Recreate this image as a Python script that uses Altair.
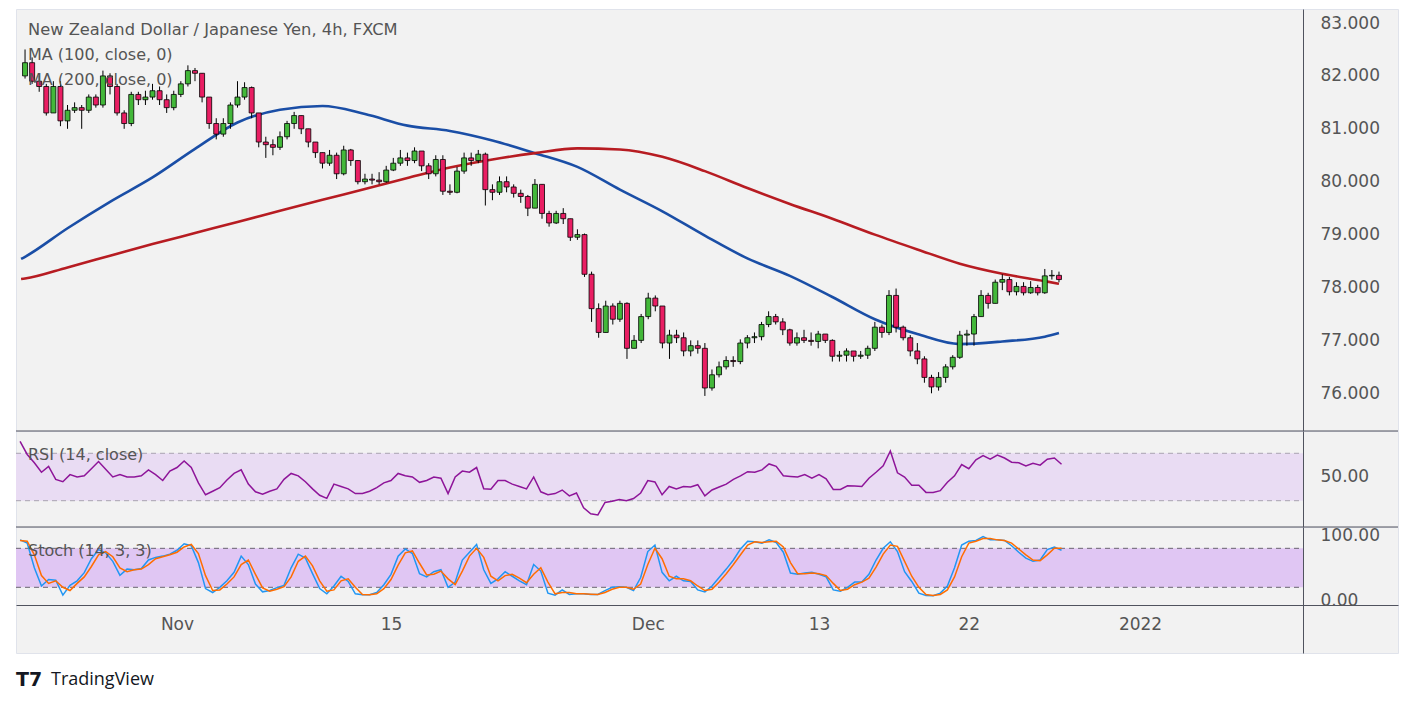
import altair as alt
import pandas as pd

# ---------------- data ----------------
# 8-hour bars; time axis in trading days, Nov 1 = 0
BAR_START = -22 / 3
BAR_STEP = 1 / 3
FIRST_OPEN = 82.0

CLOSE = [
    82.25, 81.9, 81.8, 81.3, 81.8, 81.15, 81.35, 81.4, 81.35, 81.6,
    81.45, 82.0, 81.8, 81.3, 81.1, 81.65, 81.55, 81.6, 81.72, 81.55,
    81.4, 81.65, 81.85, 82.1, 82.05, 81.6, 81.1, 80.9, 81.1, 81.45,
    81.6, 81.78, 81.3, 80.75, 80.7, 80.65, 80.85, 81.1, 81.25, 81.0,
    80.75, 80.55, 80.35, 80.5, 80.15, 80.6, 80.4, 80.0, 80.05, 80.03,
    80.0, 80.22, 80.35, 80.45, 80.4, 80.58, 80.3, 80.15, 80.42, 79.82,
    79.8, 80.2, 80.45, 80.4, 80.52, 79.85, 79.8, 80.0, 79.9, 79.78,
    79.72, 79.5, 79.95, 79.4, 79.22, 79.4, 79.3, 78.95, 79.0, 78.25,
    77.6, 77.15, 77.65, 77.4, 77.7, 76.85, 77.0, 77.45, 77.8, 77.65,
    76.95, 77.1, 77.05, 76.8, 76.9, 76.85, 76.1, 76.35, 76.5, 76.62,
    76.6, 76.95, 77.05, 77.07, 77.3, 77.45, 77.35, 77.2, 76.95, 77.05,
    77.0, 76.98, 77.12, 77.0, 76.7, 76.72, 76.8, 76.7, 76.72, 76.85,
    77.25, 77.15, 77.85, 77.25, 77.05, 76.8, 76.65, 76.3, 76.12, 76.3,
    76.5, 76.68, 77.1, 77.12, 77.45, 77.85, 77.7, 78.1, 78.15, 77.92,
    78.02, 77.9, 78.0, 77.9, 78.22, 78.23, 78.15,
]
HIGH = [
    82.5, 82.35, 82.0, 81.85, 81.9, 81.9, 81.45, 81.5, 81.45, 81.65,
    81.65, 82.1, 82.05, 81.85, 81.35, 81.7, 81.7, 81.72, 81.85, 81.8,
    81.65, 81.72, 81.9, 82.2, 82.15, 82.05, 81.6, 81.2, 81.2, 81.5,
    81.9, 81.88, 81.8, 81.3, 80.85, 80.8, 80.95, 81.15, 81.32, 81.25,
    81.0, 80.75, 80.55, 80.6, 80.55, 80.68, 80.62, 80.4, 80.15, 80.15,
    80.18, 80.3, 80.45, 80.6, 80.55, 80.65, 80.58, 80.35, 80.5, 80.5,
    79.95, 80.28, 80.55, 80.55, 80.6, 80.55, 79.95, 80.1, 80.1, 79.95,
    79.85, 79.75, 80.05, 79.95, 79.45, 79.45, 79.5, 79.3, 79.1, 79.02,
    78.3, 77.7, 77.75, 77.7, 77.75, 77.72, 77.1, 77.5, 77.9, 77.85,
    77.65, 77.2, 77.2, 77.15, 77.0, 77.0, 76.95, 76.45, 76.6, 76.7,
    76.7, 77.02, 77.1, 77.15, 77.35, 77.55, 77.5, 77.42, 77.22, 77.15,
    77.2, 77.15, 77.18, 77.12, 77.02, 76.8, 76.85, 76.78, 76.8, 76.9,
    77.35, 77.3, 77.95, 77.98, 77.28, 77.1, 76.95, 76.7, 76.35, 76.4,
    76.55, 76.72, 77.18, 77.2, 77.5, 77.95, 77.9, 78.15, 78.25, 78.2,
    78.1, 78.1, 78.12, 78.05, 78.35, 78.33, 78.3,
]
LOW = [
    81.95, 81.85, 81.7, 81.25, 81.3, 81.05, 81.0, 81.3, 81.0, 81.3,
    81.4, 81.4, 81.65, 81.25, 81.0, 81.05, 81.45, 81.45, 81.55, 81.45,
    81.3, 81.35, 81.6, 81.8, 81.9, 81.5, 81.0, 80.8, 80.85, 81.0,
    81.4, 81.55, 81.2, 80.65, 80.45, 80.5, 80.6, 80.8, 81.0, 80.9,
    80.65, 80.45, 80.25, 80.3, 80.05, 80.12, 80.3, 79.95, 79.95, 79.95,
    79.95, 79.98, 80.2, 80.3, 80.3, 80.35, 80.2, 80.05, 80.1, 79.75,
    79.75, 79.78, 80.15, 80.3, 80.35, 79.55, 79.65, 79.75, 79.8, 79.7,
    79.6, 79.35, 79.5, 79.3, 79.15, 79.2, 79.2, 78.88, 78.9, 78.2,
    77.35, 77.05, 77.15, 77.3, 77.35, 76.65, 76.85, 76.95, 77.4, 77.55,
    76.85, 76.65, 76.95, 76.7, 76.7, 76.75, 75.95, 76.05, 76.3, 76.45,
    76.5, 76.55, 76.85, 76.95, 77.0, 77.25, 77.3, 77.1, 76.9, 76.9,
    76.95, 76.9, 76.85, 76.95, 76.6, 76.6, 76.6, 76.6, 76.65, 76.65,
    76.8, 77.05, 77.1, 77.15, 77.0, 76.7, 76.55, 76.2, 76.0, 76.05,
    76.2, 76.45, 76.65, 76.9, 76.9, 77.45, 77.6, 77.7, 77.95, 77.85,
    77.85, 77.85, 77.88, 77.85, 77.88, 78.15, 78.1,
]
RSI = [
    80, 69, 62, 54, 59, 48, 46, 52, 50, 51,
    57, 63, 56.5, 50, 52, 50, 50, 51, 56, 52,
    47, 55, 58, 63.5, 58, 45, 35, 38, 41, 47.5,
    53, 56, 44, 37.5, 35.5, 38, 40, 48, 53, 51,
    46, 40, 34.6, 32, 44, 42, 40, 36, 36, 38,
    41, 45, 47, 53, 51, 50, 45.5, 47, 50, 49,
    36, 50, 55, 54, 58, 40, 39.6, 47, 47, 44,
    42, 40, 50, 37.5, 35, 36, 39, 34, 36.5, 24,
    19, 18, 28.5, 29.5, 31, 30, 31.8, 36.5, 47, 45.8,
    35, 42, 40, 42, 41.5, 43.5, 34, 39, 41.5, 44,
    48, 51, 54.5, 54, 56, 61, 59, 51, 50.5, 50,
    52, 49, 52, 48.5, 39.5, 39.5, 42.5, 42.3, 42, 49,
    54, 59.5, 72, 53.5, 50, 43, 43, 37, 37, 38.5,
    45.5, 51, 60.5, 57, 64.5, 68, 65, 68.5, 66, 62.5,
    62, 59.3, 61.6, 60, 65, 66, 60.7,
]
STOCH_K = [
    93, 88, 50, 22, 32, 31, 8, 23, 30, 42.5,
    64, 78, 73, 60, 38.5, 48, 47, 49, 62, 66,
    68, 71, 77, 87, 84, 58, 18, 12, 20, 30,
    43, 68, 55, 25, 13, 15, 19.5, 23, 50, 71,
    65, 41, 18, 10, 22, 37, 29, 10, 8.5, 8.5,
    12, 24, 40, 68, 79, 72, 41, 36, 44, 47,
    20, 28, 62, 74, 86, 47, 26, 33, 44, 37,
    30, 24, 55, 45, 11, 8, 16, 9, 10, 10,
    9, 9, 15, 20, 21, 20, 15, 35, 75, 85,
    43, 30, 37, 30, 29, 16, 13, 22, 35, 48,
    62, 79, 91, 90, 88, 93, 89, 74, 42, 40,
    42, 43, 40, 36, 16, 14, 20, 28, 28, 40,
    62, 80, 90, 75, 44, 29, 11, 7.5, 7, 11,
    22, 50, 85, 91, 92, 98, 93, 93, 92, 84,
    74, 65, 60, 62, 78, 82, 77,
]
STOCH_D = [
    92, 91, 70, 38, 26, 30, 20, 15, 26, 36,
    52, 70, 75, 67, 50, 44, 47, 48, 55, 64,
    67, 70, 74, 82, 86, 72, 38, 15, 16, 25,
    36, 55, 62, 40, 19, 14, 17, 21, 36, 60,
    68, 53, 30, 14, 16, 30, 33, 20, 9, 8.5,
    10, 18, 32, 54, 73, 76, 57, 39, 40, 45,
    33, 24, 45, 68, 80, 66, 37, 30, 38, 40,
    34, 27, 40, 50, 28, 10, 12, 12, 10, 10,
    9.5, 9, 12, 17, 20, 20, 17, 25, 55, 80,
    64, 37, 33, 33, 30, 22, 15, 17, 28, 41,
    55, 70, 85, 90, 89, 90, 91, 82, 58, 41,
    41, 42, 41, 38, 26, 15, 17, 24, 28, 34,
    51, 71, 85, 83, 60, 37, 20, 9, 7.5, 9,
    16, 36, 67, 88, 91, 95, 95, 93, 92, 88,
    79, 70, 62, 61, 70, 80, 80,
]
# moving averages: first point sits on the left edge of the chart,
# the rest at every 6th bar (plus the last bar)
MA_LEFT_EDGE = -7.52
MA_IDX = list(range(0, 147, 6)) + [146]
MA100 = [78.54, 78.58, 79.12, 79.62, 80.08, 80.62, 81.12, 81.36, 81.43, 81.28, 81.06,
         80.96, 80.78, 80.54, 80.28, 79.85, 79.44, 78.98, 78.55, 78.22, 77.82,
         77.4, 77.12, 76.93, 76.98, 77.07, 77.14]
MA200 = [78.16, 78.17, 78.38, 78.6, 78.82, 79.03, 79.24, 79.45, 79.66, 79.86, 80.07,
         80.27, 80.42, 80.54, 80.63, 80.61, 80.47, 80.2, 79.88, 79.58, 79.3,
         79.0, 78.72, 78.45, 78.26, 78.12, 78.07]

TICK_POS = [0, 10, 22, 30, 37, 45]
TICK_LABELS = ["Nov", "15", "Dec", "13", "22", "2022"]
PRICE_TICKS = [76, 77, 78, 79, 80, 81, 82, 83]

TITLE = "New Zealand Dollar / Japanese Yen, 4h, FXCM"
MA100_LABEL = "MA (100, close, 0)"
MA200_LABEL = "MA (200, close, 0)"
RSI_LABEL = "RSI (14, close)"
STOCH_LABEL = "Stoch (14, 3, 3)"

# ---------------- tables ----------------
n = min(len(CLOSE), len(HIGH), len(LOW))
opens = [FIRST_OPEN] + CLOSE[: n - 1]
t = [BAR_START + i * BAR_STEP for i in range(n)]
candles = pd.DataFrame({
    "t": t,
    "open": opens,
    "close": CLOSE[:n],
    "high": [max(h, o, c) for h, o, c in zip(HIGH[:n], opens, CLOSE[:n])],
    "low": [min(l, o, c) for l, o, c in zip(LOW[:n], opens, CLOSE[:n])],
})
candles["dir"] = ["up" if c >= o else "down" for o, c in zip(candles["open"], candles["close"])]

ma_t = [MA_LEFT_EDGE] + [BAR_START + i * BAR_STEP for i in MA_IDX]
mm = min(len(ma_t), len(MA100), len(MA200))
ma = pd.DataFrame({"t": ma_t[:mm], "ma100": MA100[:mm], "ma200": MA200[:mm]})
m = min(len(RSI), n)
rsi = pd.DataFrame({"t": t[:m], "rsi": RSI[:m]})
k = min(len(STOCH_K), len(STOCH_D), n)
stoch = pd.DataFrame({"t": t[:k], "k": STOCH_K[:k], "d": STOCH_D[:k]})

# ---------------- layout ----------------
W = 1382
PLOT_W = 1287
GUTTER = W - PLOT_W
H_MAIN, H_RSI, H_STOCH = 422, 96, 126
X_DOM = [-7.5234, 57.056]
PRICE_DOM = [75.287, 83.265]
RSI_DOM = [7.8, 88.8]
STOCH_DOM = [-81.1, 112.8]
FONT = "DejaVu Sans"
TXT = "#555555"
SEP = "#50535e"

xs = alt.Scale(domain=X_DOM, nice=False, zero=False)
x_noaxis = alt.X("t:Q", scale=xs, axis=None, title=None)


def yaxis(values, fmt):
    return alt.Axis(orient="right", offset=-GUTTER, values=values, format=fmt,
                    labelPadding=17, ticks=False, tickSize=0, grid=False,
                    domainColor=SEP, labelFont=FONT, labelFontSize=17,
                    labelColor=TXT, zindex=1, title=None)


def ycol(field, dom, values, fmt):
    return alt.Y(f"{field}:Q", scale=alt.Scale(domain=dom, nice=False, zero=False),
                 axis=yaxis(values, fmt), title=None)


def label(text, y, size=16):
    return alt.Chart(pd.DataFrame({"label": [text]})).mark_text(
        align="left", baseline="middle", font=FONT, fontSize=size, color=TXT
    ).encode(text="label:N", x=alt.value(12), y=alt.value(y))


def separator():
    return alt.Chart(pd.DataFrame({"a": [0]})).mark_rule(color=SEP, strokeWidth=1).encode(
        x=alt.value(0), x2=alt.value(W), y=alt.value(0))


# main panel
pax = (PRICE_DOM, PRICE_TICKS, ".3f")
ma100_line = alt.Chart(ma).mark_line(color="#1a4ea6", strokeWidth=2.6, interpolate="monotone").encode(
    x=x_noaxis, y=ycol("ma100", *pax))
ma200_line = alt.Chart(ma).mark_line(color="#b71c22", strokeWidth=2.6, interpolate="monotone").encode(
    x=x_noaxis, y=ycol("ma200", *pax))
wicks = alt.Chart(candles).mark_rule(color="black", strokeWidth=1).encode(
    x=x_noaxis, y=ycol("low", *pax), y2="high:Q")
bodies = alt.Chart(candles).mark_bar(size=5, stroke="black", strokeWidth=0.8).encode(
    x=x_noaxis, y=ycol("open", *pax), y2="close:Q",
    color=alt.Color("dir:N", scale=alt.Scale(domain=["up", "down"], range=["#43b83a", "#e91e63"]),
                    legend=None))
main = alt.layer(
    ma100_line, ma200_line, wicks, bodies,
    label(TITLE, 21, 16.3), label(MA100_LABEL, 46), label(MA200_LABEL, 71),
).properties(width=W, height=H_MAIN)

# RSI panel
rax = (RSI_DOM, [50], ".2f")
rsi_band = alt.Chart(pd.DataFrame({"lo": [30], "hi": [70]})).mark_rect(color="#e9dcf3").encode(
    y=ycol("lo", *rax), y2="hi:Q", x=alt.value(0), x2=alt.value(PLOT_W))
rsi_lvls = alt.Chart(pd.DataFrame({"lvl": [30, 70]})).mark_rule(
    color="#a9a3b0", strokeDash=[5, 4], strokeWidth=1).encode(
    y=ycol("lvl", *rax), x=alt.value(0), x2=alt.value(PLOT_W))
rsi_line = alt.Chart(rsi).mark_line(color="#8e1599", strokeWidth=1.5).encode(
    x=x_noaxis, y=ycol("rsi", *rax))
rsi_panel = alt.layer(
    rsi_band, rsi_lvls, rsi_line, separator(), label(RSI_LABEL, 24)
).properties(width=W, height=H_RSI)

# Stoch panel (includes the time-axis strip)
sax = (STOCH_DOM, [0, 100], ".2f")
label_expr = " : ".join(f"datum.value == {p} ? '{s}'" for p, s in zip(TICK_POS, TICK_LABELS)) + " : ''"
x_time = alt.X("t:Q", scale=xs, title=None, axis=alt.Axis(
    orient="bottom", offset=-48, values=TICK_POS, labelExpr=label_expr,
    labelFont=FONT, labelFontSize=17, labelColor=TXT, labelPadding=11,
    ticks=False, tickSize=0, grid=False, domainColor=SEP, labelFlush=False,
    labelOverlap=False, zindex=1))
st_band = alt.Chart(pd.DataFrame({"lo": [20], "hi": [80]})).mark_rect(color="#e0c6f3").encode(
    y=ycol("lo", *sax), y2="hi:Q", x=alt.value(0), x2=alt.value(PLOT_W))
st_lvls = alt.Chart(pd.DataFrame({"lvl": [20, 80]})).mark_rule(
    color="#6a6470", strokeDash=[5, 4], strokeWidth=1).encode(
    y=ycol("lvl", *sax), x=alt.value(0), x2=alt.value(PLOT_W))
k_line = alt.Chart(stoch).mark_line(color="#2196f3", strokeWidth=1.5).encode(
    x=x_time, y=ycol("k", *sax))
d_line = alt.Chart(stoch).mark_line(color="#ff6d00", strokeWidth=1.5).encode(
    x=x_time, y=ycol("d", *sax))
logo = alt.Chart(pd.DataFrame({"label": ["T7"]})).mark_text(
    align="left", baseline="middle", font=FONT, fontWeight="bold", fontSize=19, color="#131722"
).encode(text="label:N", x=alt.value(0), y=alt.value(153))
brand = alt.Chart(pd.DataFrame({"label": ["TradingView"]})).mark_text(
    align="left", baseline="middle", font="Open Sans", fontSize=18, color="#131722"
).encode(text="label:N", x=alt.value(35), y=alt.value(153))
stoch_panel = alt.layer(
    st_band, st_lvls, k_line, d_line, separator(), label(STOCH_LABEL, 24), logo, brand
).properties(width=W, height=H_STOCH)

chart = alt.vconcat(main, rsi_panel, stoch_panel, spacing=0, bounds="flush").resolve_scale(
    x="independent", y="independent", color="independent"
).properties(
    padding={"left": 7, "top": 0, "right": 4, "bottom": 4}, background="white"
).configure_view(stroke="#e0e3eb", strokeWidth=1, fill="#f2f2f2")

chart.save("out.html", embed_options={"renderer": "svg", "actions": False})
